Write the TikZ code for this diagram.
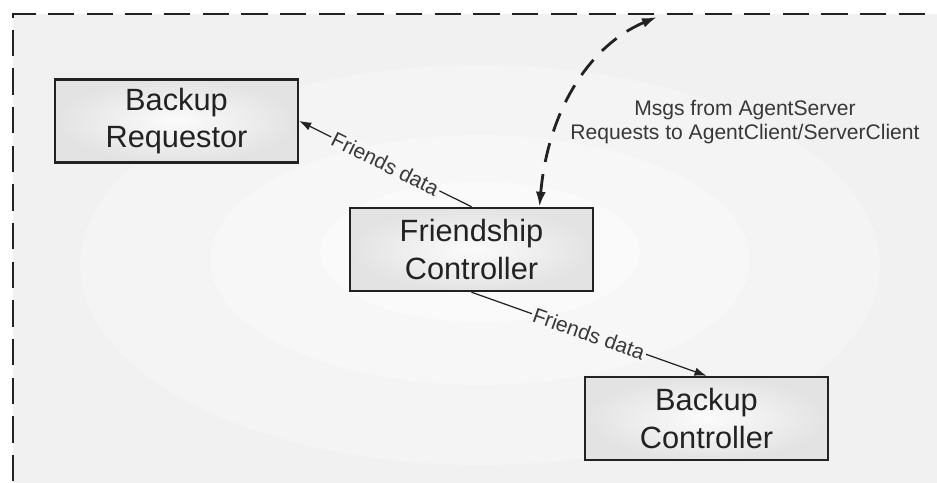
\documentclass[tikz,border=0pt]{standalone}
\usepackage{fontspec}
\setmainfont{Liberation Sans}
\usetikzlibrary{arrows.meta,calc,positioning}
\definecolor{Zone}{HTML}{F1F1F1}
\definecolor{ZoneA}{HTML}{F4F4F4}
\definecolor{ZoneB}{HTML}{F7F7F7}
\definecolor{ZoneC}{HTML}{FAFAFA}
\definecolor{Ink}{HTML}{222222}

\begin{document}
\begin{tikzpicture}[x=0.02cm,y=-0.02cm,
    comp/.style={draw=Ink,line width=1.4pt,minimum width=4.86cm,minimum height=1.66cm,
                 align=center,inner color=gray!3,outer color=gray!22,text=Ink,
                 font=\fontsize{17.5}{21.5}\selectfont},
    flow/.style={-{Latex[length=2.4mm,width=1.7mm]},line width=0.7pt,Ink},
    msg/.style={{Latex[length=3mm,width=2mm]}-{Latex[length=3mm,width=2mm]},
                line width=1.6pt,Ink,dash pattern=on 11pt off 7pt},
    lbl/.style={font=\fontsize{12}{14}\selectfont,text=Ink!90}]
  % page and dashed zone
  \clip (0,0) rectangle (937,483);
  \fill[white] (0,0) rectangle (937,483);
  \fill[Zone] (13,14) rectangle (960,510);
  \fill[ZoneA] (480,265) ellipse [x radius=400,y radius=200];
  \fill[ZoneB] (480,260) ellipse [x radius=270,y radius=125];
  \fill[ZoneC] (480,252) ellipse [x radius=160,y radius=70];
  \draw[Ink,line width=1.7pt,dash pattern=on 15pt off 7pt] (13,520) -- (13,14) -- (960,14);

  \node[comp] (req) at (176.5,121) {Backup\\Requestor};
  \node[comp] (fc) at (471.5,249.5) {Friendship\\Controller};
  \node[comp] (bc) at (706.5,418.5) {Backup\\Controller};
  \coordinate (out) at (657,17);

  \draw[flow] (fc.north) -- node[lbl,sloped,fill=ZoneB,inner sep=1pt] {Friends data} (req.east);
  \draw[flow] (fc.south) -- node[lbl,sloped,fill=ZoneB,inner sep=1pt] {Friends data} (bc.north);
  \draw[msg] ($(fc.north)+(68,0)$) .. controls (548,110) and (590,45) .. (out);
  \node[lbl,align=center] (note) at (745,122) {Msgs from AgentServer\\Requests to AgentClient/ServerClient};
\end{tikzpicture}
\end{document}
